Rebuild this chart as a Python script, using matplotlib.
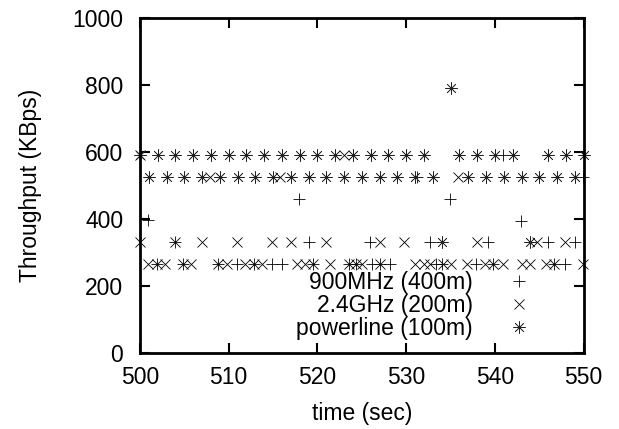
import numpy as np
import matplotlib.pyplot as plt
from matplotlib.lines import Line2D

plt.rcParams['font.family'] = ['Liberation Sans', 'DejaVu Sans']

# 900MHz (400m) samples
t_900 = [500.9, 501.9, 504.0, 504.9, 508.8, 510.9, 512.8, 514.9, 516.0, 517.9,
         519.0, 519.5, 523.6, 524.4, 525.9, 526.1, 527.0, 528.2, 531.2, 532.7,
         533.4, 534.0, 534.9, 537.9, 539.2, 539.8, 540.9, 542.9, 546.0, 546.7,
         547.9, 549.0, 549.9]
v_900 = [397, 266, 331, 266, 266, 266, 266, 266, 266, 460,
         331, 266, 266, 266, 331, 266, 266, 266, 525, 331,
         266, 266, 460, 266, 331, 266, 591, 395, 331, 266,
         266, 331, 525]

# 2.4GHz (200m)
t_24 = [500.0, 500.0, 500.9, 501.9, 502.8, 504.0, 504.9, 505.8, 507.0, 507.9,
        508.8, 509.8, 510.9, 511.8, 512.8, 513.7, 514.9, 515.8, 517.0, 517.7,
        518.6, 519.5, 521.0, 521.4, 523.0, 523.6, 524.4, 525.0, 527.0, 527.0,
        529.8, 531.0, 532.0, 532.7, 534.1, 535.1, 535.8, 536.9, 538.0, 538.9,
        539.8, 540.9, 543.0, 543.9, 544.7, 545.8, 546.7, 547.9, 549.9]
v_24 = [591, 331, 266, 266, 266, 331, 266, 266, 331, 525,
        266, 266, 331, 266, 266, 266, 331, 525, 331, 266,
        266, 266, 331, 266, 591, 266, 266, 266, 331, 266,
        331, 266, 266, 266, 266, 266, 525, 266, 331, 266,
        266, 266, 266, 266, 331, 266, 266, 331, 266]

# powerline (100m)
t_pl = [500, 501, 502, 503, 504, 505, 506, 507, 508, 509,
        510, 511, 512, 513, 514, 515, 516, 517, 518, 519,
        520, 521, 522, 523, 524, 525, 526, 527, 528, 529,
        530, 531, 532, 533, 534, 535, 536, 537, 538, 539,
        540, 541, 542, 543, 544, 545, 546, 547, 548, 549, 550]
v_pl = [591, 525, 591, 525, 591, 525, 591, 525, 591, 525,
        591, 525, 591, 525, 591, 525, 591, 525, 591, 525,
        591, 525, 591, 525, 591, 525, 591, 525, 591, 525,
        591, 525, 591, 525, 331, 790, 591, 525, 591, 525,
        591, 525, 591, 525, 331, 525, 591, 525, 591, 525, 591]

labels = ['900MHz (400m)', '2.4GHz (200m)', 'powerline (100m)']

fig = plt.figure(figsize=(6.19, 4.29), dpi=100)
ax = fig.add_axes([0.226, 0.177, 0.717, 0.781])

fs = 16.5
ms = 8
mew = 0.6
ax.plot(t_900, v_900, ls='none', marker='+', ms=ms, mew=mew, color='black', clip_on=False)
ax.plot(t_24, v_24, ls='none', marker='x', ms=ms * 0.9, mew=mew, color='black', clip_on=False)
ax.plot(t_pl, v_pl, ls='none', marker=(8, 2, 0), ms=ms * 1.1, mew=0.5, color='#222222', clip_on=False)

ax.set_xlim(500, 550)
ax.set_ylim(0, 1000)
ax.set_xticks(np.arange(500, 551, 10))
ax.set_yticks(np.arange(0, 1001, 200))
ax.tick_params(direction='in', length=7, width=1.5, top=True, right=True, labelsize=fs)
ax.tick_params(axis='x', pad=9)
ax.tick_params(axis='y', pad=12)
for s in ax.spines.values():
    s.set_linewidth(2)

ax.set_xlabel('time (sec)', fontsize=fs, labelpad=10)
ax.set_ylabel('Throughput (KBps)', fontsize=fs, labelpad=22)

handles = [
    Line2D([], [], ls='none', marker='+', ms=ms, mew=mew, color='black'),
    Line2D([], [], ls='none', marker='x', ms=ms * 0.9, mew=mew, color='black'),
    Line2D([], [], ls='none', marker=(8, 2, 0), ms=ms * 1.1, mew=0.5, color='#222222'),
]
ax.legend(handles, labels, loc='lower right', bbox_to_anchor=(0.905, 0.04),
          frameon=False, markerfirst=False, fontsize=fs, labelspacing=0.0,
          handlelength=2, handletextpad=1.0, borderpad=0, borderaxespad=0)

fig.savefig('out.png', dpi=100)
